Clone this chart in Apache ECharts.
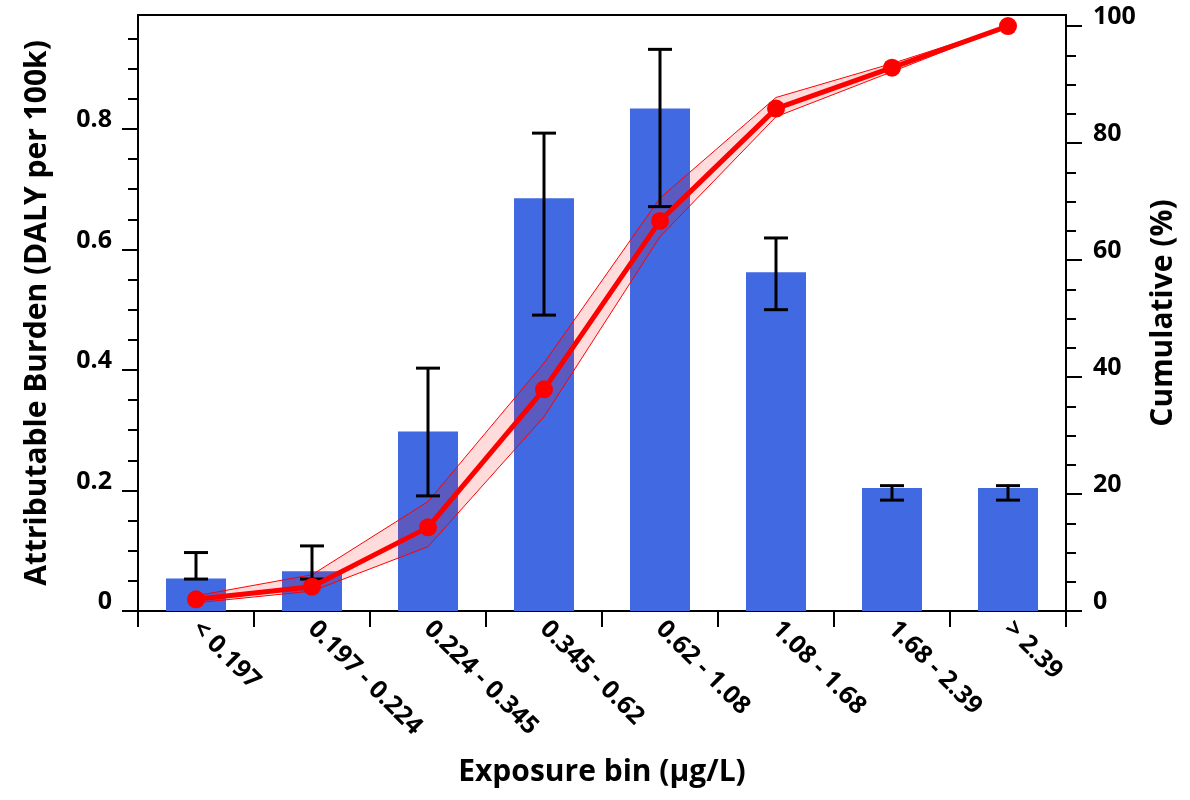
<!DOCTYPE html>
<html><head><meta charset="utf-8">
<script src="https://cdn.jsdelivr.net/npm/echarts@6/dist/echarts.min.js"></script>
<style>html,body{margin:0;padding:0;background:#fff}#c{width:1190px;height:800px}</style>
</head><body><div id="c"></div>
<script>
const categories = ['< 0.197','0.197 - 0.224','0.224 - 0.345','0.345 - 0.62','0.62 - 1.08','1.08 - 1.68','1.68 - 2.39','> 2.39'];
const burden = [0.054, 0.066, 0.298, 0.685, 0.834, 0.562, 0.204, 0.204];
const burdenLow = [0.053, 0.053, 0.191, 0.491, 0.671, 0.500, 0.184, 0.184];
const burdenHigh = [0.097, 0.108, 0.403, 0.793, 0.932, 0.619, 0.208, 0.208];
const cumulative = [2.0, 4.15, 14.3, 37.9, 66.7, 85.9, 92.9, 100];
const cumLower = [1.4, 3.4, 11.0, 33.2, 64.0, 84.5, 92.2, 100];
const cumUpper = [2.6, 6.2, 18.7, 42.4, 70.6, 87.8, 93.6, 100];
const leftMajorTicks = [0, 0.2, 0.4, 0.6, 0.8];
const leftMinorTicks = [0.05,0.1,0.15,0.25,0.3,0.35,0.45,0.5,0.55,0.65,0.7,0.75,0.85,0.9,0.95];
const rightMajorTicks = [0, 20, 40, 60, 80, 100];
const rightMinorTicks = [5,10,15,25,30,35,45,50,55,65,70,75,85,90,95];

const FONT = 'Open Sans';
const bandDiff = cumUpper.map((u, i) => u - cumLower[i]);
const errData = burdenLow.map((lo, i) => [i, lo, burdenHigh[i]]);

const chart = echarts.init(document.getElementById('c'));
const axisLineStyle = {color: '#000', width: 2};
const tickFont = {color: '#000', fontFamily: FONT, fontWeight: 'bold', fontSize: 25};
const titleFont = {color: '#000', fontFamily: FONT, fontWeight: 'bold', fontSize: 30};
const baseY = (min, max, pos) => ({
  type: 'value', min: min, max: max, position: pos, offset: 0,
  splitLine: {show: false},
  axisLine: {show: true, lineStyle: axisLineStyle}
});
chart.setOption({
  animation: false,
  grid: {left: 138, right: 124, top: 15, bottom: 189, show: true, borderColor: '#000', borderWidth: 2},
  xAxis: {
    type: 'category', data: categories,
    axisLine: {lineStyle: axisLineStyle},
    axisTick: {show: true, length: 16, lineStyle: {color: '#000', width: 2}},
    axisLabel: Object.assign({rotate: -45, margin: 14, interval: 0}, tickFont),
    name: 'Exposure bin (µg/L)', nameLocation: 'middle', nameGap: 146,
    nameTextStyle: titleFont
  },
  yAxis: [
    Object.assign(baseY(0, 0.989, 'left'), {
      axisTick: {show: true, length: 16, lineStyle: {color: '#000', width: 2}, customValues: leftMajorTicks},
      axisLabel: Object.assign({margin: 26, customValues: leftMajorTicks, verticalAlign: 'bottom', lineHeight: 18}, tickFont),
      name: 'Attributable Burden (DALY per 100k)', nameLocation: 'middle', nameGap: 86, nameRotate: 90,
      nameTextStyle: titleFont
    }),
    Object.assign(baseY(0, 101.9, 'right'), {
      axisTick: {show: true, length: 16, lineStyle: {color: '#000', width: 2}, customValues: rightMajorTicks},
      axisLabel: Object.assign({margin: 27, customValues: rightMajorTicks, verticalAlign: 'bottom', lineHeight: 18}, tickFont),
      name: 'Cumulative (%)', nameLocation: 'middle', nameGap: 82, nameRotate: 90,
      nameTextStyle: titleFont
    }),
    Object.assign(baseY(0, 0.989, 'left'), {
      axisLine: {show: false},
      axisTick: {show: true, length: 10, lineStyle: {color: '#000', width: 2}, customValues: leftMinorTicks},
      axisLabel: {show: false}
    }),
    Object.assign(baseY(0, 101.9, 'right'), {
      axisLine: {show: false},
      axisTick: {show: true, length: 10, lineStyle: {color: '#000', width: 2}, customValues: rightMinorTicks},
      axisLabel: {show: false}
    })
  ],
  series: [
    {type: 'bar', yAxisIndex: 0, data: burden, barWidth: 60, itemStyle: {color: '#4169E1'}, z: 2},
    {type: 'line', yAxisIndex: 1, data: cumLower, stack: 'band', symbol: 'none',
     lineStyle: {color: '#ff0000', width: 1}, z: 3},
    {type: 'line', yAxisIndex: 1, data: bandDiff, stack: 'band', symbol: 'none',
     lineStyle: {color: '#ff0000', width: 1}, areaStyle: {color: 'rgba(255,0,0,0.2)'}, z: 3},
    {type: 'custom', yAxisIndex: 0, data: errData, z: 4,
     renderItem: function (params, api) {
       const x = api.value(0);
       const top = api.coord([x, api.value(2)]);
       const bot = api.coord([x, api.value(1)]);
       const hw = 12;
       const st = {stroke: '#000', lineWidth: 3};
       return {type: 'group', children: [
         {type: 'line', shape: {x1: top[0], y1: top[1], x2: bot[0], y2: bot[1]}, style: st},
         {type: 'line', shape: {x1: top[0]-hw, y1: top[1], x2: top[0]+hw, y2: top[1]}, style: st},
         {type: 'line', shape: {x1: bot[0]-hw, y1: bot[1], x2: bot[0]+hw, y2: bot[1]}, style: st}
       ]};
     }},
    {type: 'line', yAxisIndex: 1, data: cumulative, symbol: 'circle', symbolSize: 18,
     lineStyle: {color: '#ff0000', width: 5}, itemStyle: {color: '#ff0000'}, z: 5}
  ]
});
</script></body></html>
